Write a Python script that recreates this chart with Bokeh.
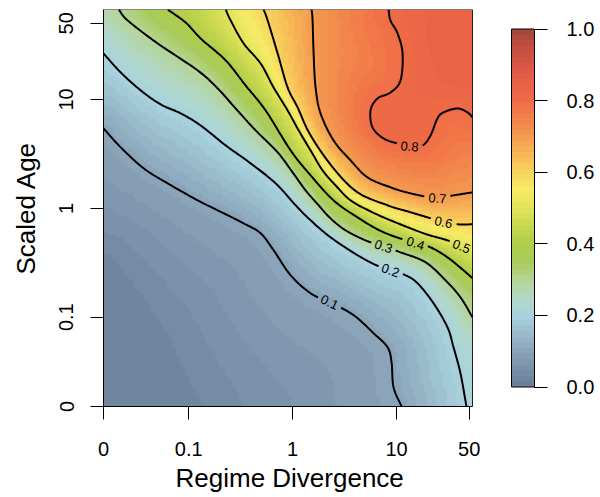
import numpy as np
from bokeh.plotting import figure
from bokeh.models import (Range1d, FixedTicker, LinearColorMapper, CustomJSTickFormatter,
                          PrintfTickFormatter, LinearAxis, Title)
from bokeh.embed import file_html
from bokeh.resources import INLINE
from bokeh.core.properties import value

# ---------------- data ----------------
x_tick_values = [0, 0.1, 1, 10, 50]
x_tick_labels = ["0", "0.1", "1", "10", "50"]
y_tick_values = [0, 0.1, 1, 10, 50]
y_tick_labels = ["0", "0.1", "1", "10", "50"]
bar_ticks = [0.0, 0.2, 0.4, 0.6, 0.8, 1.0]
x_title = "Regime Divergence"
y_title = "Scaled Age"

# both axes are log10; the value 0 is drawn at log10 = -1.82
ZERO_LOG = -1.82
X_LOG_MAX = 1.731
Y_LOG_MAX = 1.826

levels = [0.1, 0.2, 0.3, 0.4, 0.5, 0.6, 0.7, 0.8]
level_labels = ["0.1", "0.2", "0.3", "0.4", "0.5", "0.6", "0.7", "0.8"]

# contour paths (x = log10 Regime Divergence, y = log10 Scaled Age)
c01_x = [-1.82, -1.654, -1.433, -1.202, -0.913, -0.721, -0.471, -0.308, -0.183, -0.019, 0.173, 0.356, 0.510, 0.625, 0.779, 0.913, 0.952, 0.971, 1.048]
c01_y = [0.734, 0.560, 0.367, 0.229, 0.073, -0.018, -0.138, -0.229, -0.385, -0.615, -0.780, -0.862, -0.936, -1.009, -1.147, -1.275, -1.413, -1.642, -1.82]
c02_x = [-1.82, -1.654, -1.462, -1.269, -1.077, -0.885, -0.644, -0.404, -0.163, 0.029, 0.173, 0.365, 0.625, 0.808, 0.942, 1.087, 1.202, 1.356, 1.490, 1.548, 1.615, 1.673]
c02_y = [1.422, 1.248, 1.083, 0.954, 0.872, 0.761, 0.578, 0.413, 0.229, 0.028, -0.110, -0.266, -0.431, -0.523, -0.569, -0.615, -0.688, -0.872, -1.092, -1.275, -1.514, -1.82]
c03_x = [-1.673, -1.587, -1.298, -0.913, -0.721, -0.548, -0.356, -0.144, 0.0, 0.125, 0.250, 0.365, 0.510, 0.702, 0.875, 1.038, 1.279, 1.471, 1.615, 1.731]
c03_y = [1.826, 1.725, 1.514, 1.266, 1.101, 0.917, 0.716, 0.514, 0.330, 0.165, 0.028, -0.092, -0.202, -0.294, -0.349, -0.404, -0.495, -0.661, -0.817, -1.0]
c04_x = [-1.202, -1.029, -0.885, -0.644, -0.452, -0.260, -0.019, 0.173, 0.394, 0.625, 0.875, 1.183, 1.327, 1.490, 1.644, 1.731]
c04_y = [1.826, 1.706, 1.560, 1.358, 1.128, 0.899, 0.532, 0.303, 0.073, -0.083, -0.220, -0.321, -0.358, -0.450, -0.569, -0.642]
c05_x = [-0.644, -0.596, -0.471, -0.308, -0.183, -0.048, 0.058, 0.173, 0.288, 0.413, 0.558, 0.750, 0.942, 1.260, 1.490, 1.625, 1.731]
c05_y = [1.826, 1.725, 1.514, 1.330, 1.110, 0.899, 0.716, 0.532, 0.349, 0.211, 0.073, -0.028, -0.110, -0.229, -0.294, -0.349, -0.385]
c06_x = [-0.279, -0.240, -0.144, -0.048, 0.048, 0.173, 0.394, 0.625, 0.913, 1.106, 1.298, 1.452, 1.596, 1.731]
c06_y = [1.826, 1.725, 1.422, 1.110, 0.927, 0.670, 0.367, 0.147, 0.028, -0.028, -0.083, -0.128, -0.147, -0.147]
c07_x = [0.183, 0.192, 0.202, 0.221, 0.269, 0.394, 0.558, 0.721, 0.942, 1.135, 1.394, 1.548, 1.731]
c07_y = [1.826, 1.725, 1.422, 1.110, 0.872, 0.624, 0.440, 0.284, 0.193, 0.138, 0.092, 0.119, 0.147]
c08_x = [0.923, 0.942, 1.010, 1.058, 1.038, 0.942, 0.817, 0.750, 0.769, 0.875, 1.010, 1.125, 1.250, 1.327, 1.394, 1.452, 1.587, 1.683, 1.731]
c08_y = [1.826, 1.725, 1.606, 1.422, 1.174, 1.064, 1.009, 0.899, 0.743, 0.642, 0.596, 0.569, 0.578, 0.670, 0.826, 0.881, 0.917, 0.881, 0.835]

contours_x = [c01_x, c02_x, c03_x, c04_x, c05_x, c06_x, c07_x, c08_x]
contours_y = [c01_y, c02_y, c03_y, c04_y, c05_y, c06_y, c07_y, c08_y]
label_vertex = [11, 14, 14, 11, 15, 11, 10, 11]

# extra (undrawn) level guides for the shading: darkest trough and reddest crest
low_level = 0.02
low_x = [-1.82, -1.462, -1.125]
low_y = [-0.569, -1.119, -1.82]
high_level = 0.83
high_x = [1.279, 1.327, 1.471, 1.731]
high_y = [1.826, 1.450, 1.174, 1.101]

# ---------------- style ----------------
anchors = [(0.00, "#697b96"), (0.05, "#7990a8"), (0.10, "#8aa3b9"), (0.15, "#9bbccc"),
           (0.20, "#a9d3df"), (0.25, "#b3d8c6"), (0.30, "#b4d496"), (0.35, "#a9cb5c"),
           (0.40, "#b0cd4a"), (0.45, "#c8d850"), (0.50, "#e2e45a"), (0.55, "#f6ec67"),
           (0.60, "#f8d35e"), (0.65, "#f7b656"), (0.70, "#f59b50"), (0.75, "#f2814b"),
           (0.80, "#ef6b47"), (0.85, "#e86046"), (0.90, "#d85646"), (0.95, "#c24e42"),
           (1.00, "#a0473a")]
NPAL = 64
av = np.array([a[0] for a in anchors])
ac = np.array([[int(h[i:i + 2], 16) for i in (1, 3, 5)] for _, h in anchors], float)
pv = (np.arange(NPAL) + 0.5) / NPAL
palette = []
for t in pv:
    rgb = [int(round(np.interp(t, av, ac[:, k]))) for k in range(3)]
    palette.append("#%02x%02x%02x" % tuple(rgb))
mapper = LinearColorMapper(palette=palette, low=0.0, high=1.0)

FONT = "Liberation Sans"
XMIN, XMAX = ZERO_LOG, X_LOG_MAX
YMIN, YMAX = ZERO_LOG, Y_LOG_MAX
FW, FH = 369, 397            # heat-map size in pixels
FRAME_W = 431                # frame also holds the colour bar
SX = FW / (XMAX - XMIN)
SY = FH / (YMAX - YMIN)
X_FRAME_MAX = XMIN + FRAME_W / SX
BAR_W = 23
BAR_LEFT = X_FRAME_MAX - BAR_W / SX
BAR_BOTTOM_PAD, BAR_TOP_PAD, BAR_H = 19.5, 19.5, 358.0
BAR_START = -BAR_BOTTOM_PAD / BAR_H
BAR_END = 1.0 + BAR_TOP_PAD / BAR_H


def to_axis(v):
    return float(np.log10(v)) if v > 0 else ZERO_LOG


def to_px(x, y):
    return np.column_stack([(np.asarray(x, float) - XMIN) * SX, (np.asarray(y, float) - YMIN) * SY])


def from_px(P):
    return P[:, 0] / SX + XMIN, P[:, 1] / SY + YMIN


def smooth(P, n=16):
    P = np.asarray(P, float)
    ext = np.vstack([2 * P[0] - P[1], P, 2 * P[-1] - P[-2]])
    t = (np.arange(n) / n)[:, None]
    out = []
    for i in range(1, len(ext) - 2):
        p0, p1, p2, p3 = ext[i - 1], ext[i], ext[i + 1], ext[i + 2]
        out.append(0.5 * (2 * p1 + (-p0 + p2) * t + (2 * p0 - 5 * p1 + 4 * p2 - p3) * t ** 2
                          + (-p0 + 3 * p1 - 3 * p2 + p3) * t ** 3))
    out.append(P[-1][None, :])
    return np.vstack(out)


def region(P):
    eps = 5.0
    corners = []
    if P[-1][1] <= 1.0:
        corners.append((FW + eps, -eps))
    corners.append((FW + eps, FH + eps))
    if P[0][0] <= 1.0:
        corners.append((-eps, FH + eps))
    return np.vstack([P, np.array(corners)])


def inside(px, py, poly):
    xs, ys = poly[:, 0], poly[:, 1]
    res = np.zeros(px.shape, bool)
    j = len(poly) - 1
    for i in range(len(poly)):
        xi, yi, xj, yj = xs[i], ys[i], xs[j], ys[j]
        if yi != yj:
            cond = ((yi > py) != (yj > py)) & (px < (xj - xi) * (py - yi) / (yj - yi) + xi)
            res ^= cond
        j = i
    return res


def mindist(gx, gy, P):
    d2 = (gx[:, None] - P[None, :, 0]) ** 2 + (gy[:, None] - P[None, :, 1]) ** 2
    return np.sqrt(d2.min(axis=1))


curves = [smooth(to_px(cx, cy)) for cx, cy in zip(contours_x, contours_y)]
guide_levels = [low_level] + levels + [high_level]
guide_curves = [smooth(to_px(low_x, low_y))] + curves + [smooth(to_px(high_x, high_y))]

NX, NY = 112, 120
gxv = (np.arange(NX) + 0.5) * FW / NX
gyv = (np.arange(NY) + 0.5) * FH / NY
GX, GY = np.meshgrid(gxv, gyv)
gx, gy = GX.ravel(), GY.ravel()
K = len(guide_curves)
count = np.zeros(gx.shape, int)
for P in guide_curves:
    count += inside(gx, gy, region(P)).astype(int)
D = np.array([mindist(gx, gy, P) for P in guide_curves])
L = np.array(guide_levels)
Z = np.empty(gx.shape)
Z[count == 0] = L[0]
Z[count >= K] = L[-1]
mid = np.where((count > 0) & (count < K))[0]
ci = count[mid]
dlo = D[ci - 1, mid]
dhi = D[ci, mid]
Z[mid] = L[ci - 1] + (L[ci] - L[ci - 1]) * dlo / (dlo + dhi + 1e-9)
Z = Z.reshape(NY, NX)

# ---------------- figure ----------------
p = figure(width=600, height=497, x_range=Range1d(XMIN, X_FRAME_MAX), y_range=Range1d(YMIN, YMAX),
           toolbar_location=None, output_backend="svg",
           min_border_left=103, min_border_right=66, min_border_top=9, min_border_bottom=91)
p.extra_y_ranges = {"bar": Range1d(BAR_START, BAR_END)}
p.grid.visible = False
p.background_fill_color = "white"
p.border_fill_color = "white"
p.outline_line_color = None

p.image(image=[Z], x=XMIN, y=YMIN, dw=XMAX - XMIN, dh=YMAX - YMIN, color_mapper=mapper)
p.quad(left=[XMIN], right=[XMAX], bottom=[YMIN], top=[YMAX], fill_color=None,
       line_color="#222222", line_width=1)

label_x, label_y, label_angle = [], [], []
for k, P in enumerate(curves):
    vi = label_vertex[k]
    raw = to_px(contours_x[k], contours_y[k])
    c = raw[vi]
    a = raw[max(vi - 1, 0)]
    b = raw[min(vi + 1, len(raw) - 1)]
    ang = float(np.arctan2(b[1] - a[1], b[0] - a[0]))
    d = np.hypot(P[:, 0] - c[0], P[:, 1] - c[1])
    lx, ly = from_px(P)
    lx = lx.copy()
    ly = ly.copy()
    lx[d < 12.5] = np.nan
    ly[d < 12.5] = np.nan
    p.line(lx, ly, line_color="black", line_width=2)
    cx_, cy_ = from_px(c[None, :])
    label_x.append(float(cx_[0]))
    label_y.append(float(cy_[0]))
    label_angle.append(ang)

p.text(x=label_x, y=label_y, text=level_labels, angle=label_angle,
       text_align="center", text_baseline="middle",
       text_font=value(FONT), text_font_size="13px", text_color="black")

# colour bar
bar_vals = ((np.arange(NPAL) + 0.5) / NPAL).reshape(-1, 1)
p.image(image=[bar_vals], x=BAR_LEFT, y=0, dw=X_FRAME_MAX - BAR_LEFT, dh=1,
        color_mapper=mapper, y_range_name="bar")
p.quad(left=[BAR_LEFT], right=[X_FRAME_MAX], bottom=[0], top=[1], fill_color=None,
       line_color="black", line_width=1, y_range_name="bar")

xpos = [to_axis(v) for v in x_tick_values]
ypos = [to_axis(v) for v in y_tick_values]
p.xaxis.ticker = FixedTicker(ticks=xpos)
p.yaxis.ticker = FixedTicker(ticks=ypos)
code = """
let best = 0;
for (let i = 0; i < pos.length; i++) {
  if (Math.abs(pos[i] - tick) < Math.abs(pos[best] - tick)) best = i;
}
return labels[best];
"""
p.xaxis.formatter = CustomJSTickFormatter(args=dict(pos=xpos, labels=x_tick_labels), code=code)
p.yaxis.formatter = CustomJSTickFormatter(args=dict(pos=ypos, labels=y_tick_labels), code=code)
p.xaxis.bounds = (XMIN, XMAX)

bar_axis = LinearAxis(y_range_name="bar", ticker=FixedTicker(ticks=bar_ticks),
                      formatter=PrintfTickFormatter(format="%.1f"), bounds=(0, 1))
p.add_layout(bar_axis, "right")

for ax in (p.xaxis[0], p.yaxis[0], bar_axis):
    ax.axis_line_color = "black"
    ax.axis_line_width = 1
    ax.major_tick_line_color = "black"
    ax.major_tick_out = 13
    ax.major_tick_in = 0
    ax.minor_tick_line_color = None
    ax.major_label_text_font = FONT
    ax.major_label_text_font_size = "20px"
    ax.major_label_text_color = "black"

p.yaxis[0].axis_label = y_title
p.yaxis[0].axis_label_text_font = FONT
p.yaxis[0].axis_label_text_font_size = "26px"
p.yaxis[0].axis_label_text_font_style = "normal"
p.yaxis[0].axis_label_text_color = "black"
p.yaxis[0].axis_label_standoff = 16

p.xaxis.major_label_standoff = 22
p.yaxis[0].major_label_orientation = "vertical"
p.yaxis[0].major_label_standoff = 17
bar_axis.major_label_standoff = 19

# x title centred under the heat map (not under the whole frame)
p.add_layout(Title(text=x_title, align="left", offset=72, standoff=4,
                   text_font=FONT, text_font_size="26px", text_font_style="normal",
                   text_color="black"), "below")

open("out.html", "w").write(file_html(p, INLINE))
